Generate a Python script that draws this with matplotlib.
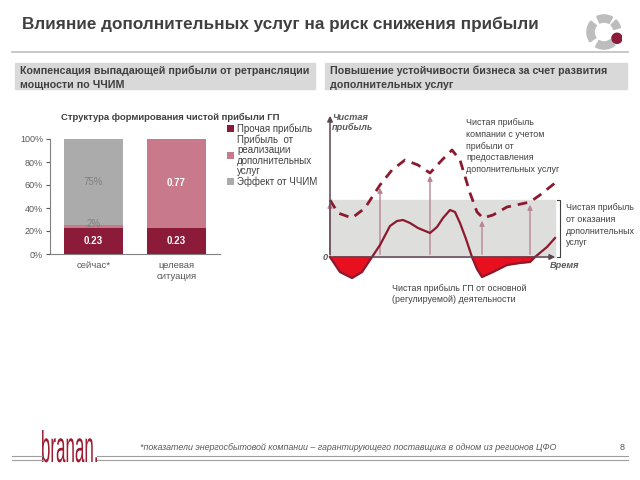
import numpy as np
import matplotlib
matplotlib.use('Agg')
import matplotlib.pyplot as plt
from matplotlib.patches import Rectangle, Wedge, Circle, PathPatch
from matplotlib.lines import Line2D
from matplotlib.textpath import TextPath
from matplotlib.font_manager import FontProperties
from matplotlib.transforms import Affine2D, IdentityTransform

plt.rcParams['font.family'] = ['Liberation Sans', 'DejaVu Sans']

# --- bar chart data ---
categories = ['сейчас*', 'целевая\nситуация']
other_profit = [0.23, 0.23]
services_profit = [0.02, 0.77]
chchim_effect = [0.75, 0.0]
series_names = ['Прочая прибыль', 'Прибыль  от\nреализации\nдополнительных\nуслуг', 'Эффект от ЧЧИМ']
yticks = [0, 0.2, 0.4, 0.6, 0.8, 1.0]
ytick_labels = ['0%', '20%', '40%', '60%', '80%', '100%']

# --- diagram data (time, profit) ---
t_solid = [0, 1.0, 2.2, 3.2, 4.2, 5.0, 6.0, 6.7, 7.3, 8.0, 8.8, 10.0, 10.7, 11.3, 12.0, 12.5,
           13.0, 13.6, 14.2, 14.7, 15.2, 16.3, 17.7, 19.0, 20.0, 20.5, 21.7, 22.5]
p_solid = [0, -1.5, -2.1, -1.5, 0, 1.2, 3.1, 3.6, 3.7, 3.4, 2.9, 2.4, 3.0, 3.9, 4.7, 4.5,
           3.4, 1.8, 0, -1.2, -2.0, -1.5, -0.8, -0.6, -0.5, 0, 1.0, 1.9]
t_dashed = [0, 0.8, 2.2, 3.5, 5.0, 6.2, 7.5, 8.8, 10.0, 11.2, 12.2, 13.0, 14.0, 14.7,
            15.3, 16.3, 17.7, 20.0, 21.0, 22.5]
p_dashed = [5.7, 4.4, 3.9, 4.9, 7.2, 8.7, 9.7, 9.2, 8.4, 9.7, 10.7, 9.7, 6.4, 4.5,
            3.9, 4.2, 5.0, 5.5, 6.2, 7.4]
arrow_t = [0, 5.0, 10.0, 15.2, 20.0]
arrow_p = [5.7, 7.2, 8.4, 3.9, 5.5]
band_top = 5.7
band_end = 22.5

W, H = 640, 480
fig = plt.figure(figsize=(6.4, 4.8), dpi=100)
fig.patch.set_facecolor('white')


def px(x, y):
    return x / W, 1 - y / H


dark = '#404040'
wine = '#8C1B3A'
pink = '#C9798C'
gray = '#ABABAB'

# title
fig.text(*px(22, 24), 'Влияние дополнительных услуг на риск снижения прибыли',
         fontsize=12.3, fontweight='bold', color=dark, va='center', ha='left')
fig.add_artist(Line2D([12 / W, 628 / W], [1 - 52 / H] * 2, color='#BFBFBF', lw=1.2))

# logo ring
lax = fig.add_axes([586 / W, 1 - 50 / H, 36 / W, 36 / H])
lax.set_xlim(-1, 1)
lax.set_ylim(-1, 1)
lax.set_aspect('equal')
lax.axis('off')
for a1, a2 in [(60, 115), (140, 215), (240, 310), (15, 45)]:
    lax.add_patch(Wedge((0, 0), 0.95, a1, a2, width=0.4, color='#BDBDBD'))
lax.add_patch(Circle((0.72, -0.35), 0.28, color='#8C1B3A'))

# header boxes
for x0, x1, txt in [(15, 315, 'Компенсация выпадающей прибыли от ретрансляции\nмощности по ЧЧИМ'),
                    (325, 627, 'Повышение устойчивости бизнеса за счет развития\nдополнительных услуг')]:
    fig.add_artist(Rectangle(px(x0, 89), (x1 - x0) / W, 26 / H, transform=fig.transFigure,
                             color='#D9D9D9', zorder=0))
    fig.text(*px(x0 + 5, 66), txt, fontsize=7.7, fontweight='bold', color=dark,
             va='top', ha='left', linespacing=1.4)

# --- bar chart ---
ax = fig.add_axes([50 / W, 1 - 254 / H, 170 / W, 115 / H])
x = np.arange(len(categories))
bw = 0.71
b1 = ax.bar(x, other_profit, bw, color=wine, label=series_names[0])
b2 = ax.bar(x, services_profit, bw, bottom=other_profit, color=pink, label=series_names[1])
bottom3 = np.array(other_profit) + np.array(services_profit)
b3 = ax.bar(x, chchim_effect, bw, bottom=bottom3, color=gray, label=series_names[2])
ax.set_xlim(-0.524, 1.524)
ax.set_ylim(0, 1.0)
ax.set_yticks(yticks)
ax.set_yticklabels(ytick_labels)
ax.set_xticks(x)
ax.set_xticklabels(categories, linespacing=1.25)
ax.tick_params(axis='y', labelsize=6.5, colors='#595959', length=3, width=0.8, pad=2)
ax.tick_params(axis='x', labelsize=6.8, colors='#595959', length=0, pad=5)
for s in ['top', 'right']:
    ax.spines[s].set_visible(False)
for s in ['left', 'bottom']:
    ax.spines[s].set_color('#808080')
    ax.spines[s].set_linewidth(0.8)

# segment labels
ax.text(x[0], other_profit[0] / 2, '0.23', ha='center', va='center', color='white', fontsize=7, fontweight='bold')
ax.text(x[1], other_profit[1] / 2, '0.23', ha='center', va='center', color='white', fontsize=7, fontweight='bold')
ax.text(x[0], bottom3[0] + 0.015, '2%', ha='center', va='center', color='#7F7F7F', fontsize=7)
ax.text(x[0], bottom3[0] + chchim_effect[0] / 2, '75%', ha='center', va='center', color='#7F7F7F', fontsize=7)
ax.text(x[1], other_profit[1] + services_profit[1] / 2, '0.77', ha='center', va='center', color='white',
        fontsize=7, fontweight='bold')

fig.text(*px(170, 117), 'Структура формирования чистой прибыли ГП', fontsize=6.8, fontweight='bold',
         color='#404040', ha='center', va='center')
leg = ax.legend(handles=[b1, b2, b3], loc='upper left', bbox_to_anchor=(1.02, 1.17), frameon=False,
                fontsize=7, handlelength=0.7, handleheight=0.7, handletextpad=0.3, labelspacing=0.1,
                borderaxespad=0)
for t in leg.get_texts():
    t.set_color('#404040')
    t.set_linespacing(1.02)

# --- diagram ---
dx = fig.add_axes([325 / W, 1 - 283 / H, 255 / W, 172 / H])
dx.set_xlim(-0.5, 25)
dx.set_ylim(-2.6, 14.6)
dx.axis('off')

dx.add_patch(Rectangle((0, 0), band_end, band_top, color='#DEDEDC', zorder=0))
ts = np.array(t_solid)
ps = np.array(p_solid)
dx.fill_between(ts, ps, 0, where=ps <= 0, interpolate=True, color='#E8101E', zorder=2)
dx.plot(t_solid, p_solid, color='#8B1A2E', lw=1.6, zorder=4, solid_joinstyle='round')
dx.plot(t_dashed, p_dashed, color='#8B1A2E', lw=2.0, ls=(0, (3.5, 2.5)), zorder=4)

axcol = '#5C4652'
dx.annotate('', xy=(0, 14.4), xytext=(0, -0.05),
            arrowprops=dict(arrowstyle='-|>', color=axcol, lw=1.1, mutation_scale=8), zorder=5)
dx.annotate('', xy=(22.8, 0), xytext=(-0.05, 0),
            arrowprops=dict(arrowstyle='-|>', color=axcol, lw=1.1, mutation_scale=8), zorder=5)
for at, ap in zip(arrow_t, arrow_p):
    dx.annotate('', xy=(at, ap), xytext=(at, 0),
                arrowprops=dict(arrowstyle='-|>', color='#B98593', lw=1.0, mutation_scale=7), zorder=3)

# bracket
bx = 22.95
dx.plot([bx - 0.3, bx, bx, bx - 0.3], [band_top, band_top, 0, 0], color='#404040', lw=0.8)

fs = 6.4
tc = '#404040'
fig.text(*px(332, 113), 'Чистая\nприбыль', fontsize=6.6, fontweight='bold', fontstyle='italic',
         color='#595959', va='top', ha='left', linespacing=1.1)
fig.text(*px(328, 257), '0', fontsize=6.6, fontweight='bold', fontstyle='italic', color='#595959',
         va='center', ha='right')
fig.text(*px(550, 266), 'Время', fontsize=6.6, fontweight='bold', fontstyle='italic', color='#595959',
         va='center', ha='left')
fig.text(*px(466, 118), 'Чистая прибыль\nкомпании с учетом\nприбыли от\nпредоставления\nдополнительных услуг',
         fontsize=fs, color=tc, va='top', ha='left', linespacing=1.4)
fig.text(*px(566, 203), 'Чистая прибыль\nот оказания\nдополнительных\nуслуг',
         fontsize=fs, color=tc, va='top', ha='left', linespacing=1.4)
fig.text(*px(392, 284), 'Чистая прибыль ГП от основной\n(регулируемой) деятельности',
         fontsize=fs, color=tc, va='top', ha='left', linespacing=1.35)

# footer logo drawn as a condensed text path
tp = TextPath((0, 0), 'branan.', size=40, prop=FontProperties(family='Liberation Sans'))
ext = tp.get_extents()
sx = 55 / ext.width
sy = 32 / ext.ymax
tr = Affine2D().translate(-ext.xmin, 0).scale(sx, sy).translate(42, H - 462)
fig.add_artist(PathPatch(tr.transform_path(tp), transform=IdentityTransform(),
                         facecolor='#9B1B30', edgecolor='none'))
for yy in [456, 460]:
    fig.add_artist(Line2D([12 / W, 42 / W], [1 - yy / H] * 2, color='#9E9E9E', lw=0.8))
    fig.add_artist(Line2D([97 / W, 628 / W], [1 - yy / H] * 2, color='#9E9E9E', lw=0.8))
fig.text(*px(140, 448), '*показатели энергосбытовой компании – гарантирующего поставщика в одном из регионов ЦФО',
         fontsize=6.4, fontstyle='italic', color='#595959', va='center', ha='left')
fig.text(*px(620, 448), '8', fontsize=6.5, color='#595959', va='center', ha='left')

fig.savefig('out.png', dpi=100)
